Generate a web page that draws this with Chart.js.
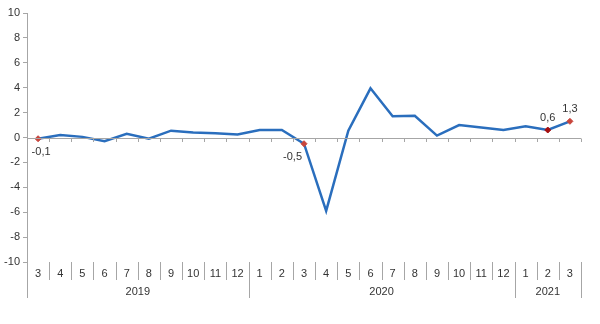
<!DOCTYPE html>
<html>
<head>
<meta charset="utf-8">
<script src="https://cdn.jsdelivr.net/npm/chart.js@4/dist/chart.umd.min.js"></script>
<style>
html,body{margin:0;padding:0;background:#fff;}
#wrap{width:600px;height:324px;position:relative;}
</style>
</head>
<body>
<div id="wrap"><canvas id="c" width="600" height="324"></canvas></div>
<script>
// ---- data ----
const months = ['3','4','5','6','7','8','9','10','11','12','1','2','3','4','5','6','7','8','9','10','11','12','1','2','3'];
const years = ['2019','2020','2021'];
const yearCounts = [10, 12, 3];
const values = [-0.1,0.2,0.05,-0.3,0.3,-0.1,0.55,0.4,0.35,0.25,0.6,0.6,-0.5,-5.9,0.55,3.95,1.7,1.75,0.15,1.0,0.8,0.6,0.9,0.6,1.3];
const yTicks = [-10,-8,-6,-4,-2,0,2,4,6,8,10];
const markedIdx = [0, 12, 23, 24];
const markedLabels = ['-0,1', '-0,5', '0,6', '1,3'];
const markedColors = ['#c8453c', '#c8453c', '#a50f0f', '#c8453c'];

const FONT = "'Liberation Sans', Arial, sans-serif";
const AXIS = '#a6a6a6';
const TXT = '#333333';

const overlay = {
  id: 'overlay',
  afterDatasetsDraw(chart) {
    const ctx = chart.ctx;
    const xs = chart.scales.x, ys = chart.scales.y;
    const ca = chart.chartArea;
    const step = xs.getPixelForValue(1) - xs.getPixelForValue(0);
    const y0 = ys.getPixelForValue(0);
    ctx.save();
    ctx.strokeStyle = AXIS;
    ctx.lineWidth = 1;
    // y axis line extended down to year row
    ctx.beginPath();
    ctx.moveTo(Math.round(ca.left) + 0.5, ca.top);
    ctx.lineTo(Math.round(ca.left) + 0.5, ca.bottom + 36);
    ctx.stroke();
    // zero line with tick marks
    ctx.beginPath();
    ctx.moveTo(ca.left, Math.round(y0) + 0.5);
    ctx.lineTo(ca.right, Math.round(y0) + 0.5);
    for (let i = 0; i <= months.length; i++) {
      const bx = Math.round(xs.getPixelForValue(i) - step / 2) + 0.5;
      ctx.moveTo(bx, Math.round(y0) + 0.5);
      ctx.lineTo(bx, Math.round(y0) + 4);
    }
    ctx.stroke();
    // bottom separators
    const yearBounds = [];
    let acc = 0;
    yearCounts.forEach(c => { acc += c; yearBounds.push(acc); });
    ctx.beginPath();
    for (let i = 1; i <= months.length; i++) {
      const bx = Math.round(xs.getPixelForValue(i) - step / 2) + 0.5;
      const long = yearBounds.includes(i);
      ctx.moveTo(bx, ca.bottom);
      ctx.lineTo(bx, ca.bottom + (long ? 36 : 18));
    }
    ctx.stroke();
    // month labels
    ctx.fillStyle = TXT;
    ctx.font = '11px ' + FONT;
    ctx.textAlign = 'center';
    ctx.textBaseline = 'middle';
    months.forEach((m, i) => {
      ctx.fillText(m, xs.getPixelForValue(i), ca.bottom + 12);
    });
    // year labels
    let start = 0;
    years.forEach((yr, k) => {
      const end = start + yearCounts[k] - 1;
      const cx = (xs.getPixelForValue(start) + xs.getPixelForValue(end)) / 2;
      ctx.fillText(yr, cx, ca.bottom + 30);
      start = end + 1;
    });
    // data labels
    markedIdx.forEach((idx, k) => {
      const px = xs.getPixelForValue(idx);
      const py = ys.getPixelForValue(values[idx]);
      if (values[idx] < 0) {
        ctx.textAlign = (idx === 0) ? 'center' : 'right';
        ctx.fillText(markedLabels[k], idx === 0 ? px + 3 : px - 2, py + 13);
      } else {
        ctx.textAlign = 'center';
        ctx.fillText(markedLabels[k], px, py - 12);
      }
    });
    ctx.restore();
  }
};

new Chart(document.getElementById('c'), {
  type: 'line',
  data: {
    labels: months,
    datasets: [{
      data: values,
      borderColor: '#2a6ebd',
      borderWidth: 2.5,
      tension: 0,
      pointStyle: 'rectRot',
      pointRadius: ctx => markedIdx.includes(ctx.dataIndex) ? 3 : 0,
      pointHoverRadius: 0,
      pointBackgroundColor: ctx => {
        const k = markedIdx.indexOf(ctx.dataIndex);
        return k >= 0 ? markedColors[k] : 'rgba(0,0,0,0)';
      },
      pointBorderColor: ctx => {
        const k = markedIdx.indexOf(ctx.dataIndex);
        return k >= 0 ? markedColors[k] : 'rgba(0,0,0,0)';
      },
      pointBorderWidth: 1
    }]
  },
  options: {
    responsive: false,
    animation: false,
    events: [],
    layout: { padding: { top: 13, right: 19, bottom: 62, left: 0 } },
    plugins: { legend: { display: false }, tooltip: { enabled: false } },
    scales: {
      x: {
        type: 'category',
        offset: true,
        display: false
      },
      y: {
        min: -10, max: 10,
        afterFit: s => { s.width = 27; },
        afterBuildTicks: s => { s.ticks = yTicks.map(v => ({ value: v })); },
        border: { display: false },
        grid: { drawOnChartArea: false, drawTicks: true, tickLength: 4, color: AXIS },
        ticks: { padding: 3, color: TXT, font: { family: FONT, size: 11 } }
      }
    }
  },
  plugins: [overlay]
});
</script>
</body>
</html>
